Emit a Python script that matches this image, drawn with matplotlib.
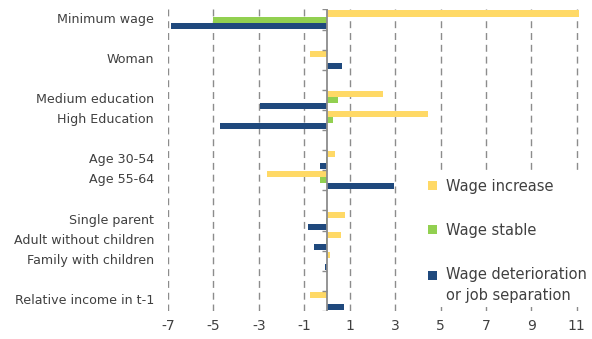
import numpy as np
import matplotlib.pyplot as plt

plt.rcParams["axes.unicode_minus"] = False

# Category rows, top to bottom; empty strings are spacer rows between groups
categories = ["Minimum wage", "", "Woman", "", "Medium education", "High Education", "",
              "Age 30-54", "Age 55-64", "", "Single parent", "Adult without children",
              "Family with children", "", "Relative income in t-1"]

wage_increase = [11.1, 0, -0.76, 0, 2.47, 4.47, 0, 0.34, -2.63, 0, 0.81, 0.62, 0.14, 0, -0.76]
wage_stable = [-5.0, 0, -0.02, 0, 0.49, 0.27, 0, -0.05, -0.29, 0, -0.05, -0.05, 0.02, 0, 0.01]
wage_deterioration = [-6.85, 0, 0.68, 0, -2.96, -4.69, 0, -0.29, 2.97, 0, -0.85, -0.55, -0.07, 0, 0.76]

series_names = ["Wage increase", "Wage stable", "Wage deterioration\nor job separation"]
colors = ["#FFD966", "#92D050", "#1F497D"]
xticks = [-7, -5, -3, -1, 1, 3, 5, 7, 9, 11]

text_col = "#404040"
grid_col = "#8C8C8C"

fig = plt.figure(figsize=(5.92, 3.39), dpi=100)
ax = fig.add_axes([0.2838, 0.0826, 0.6962, 0.8894])

y = np.arange(len(categories))
h = 0.3
for vals, off, col, name in zip([wage_increase, wage_stable, wage_deterioration],
                                [-h, 0, h], colors, series_names):
    ax.barh(y + off, vals, height=h, color=col, label=name, zorder=3)

ax.set_ylim(len(categories) - 0.5, -0.5)
ax.set_xlim(-7, 11.15)

# dashed vertical gridlines
ax.set_xticks(xticks)
ax.xaxis.grid(True, linestyle=(0, (5, 3.5)), color=grid_col, linewidth=1.0, zorder=0)
ax.yaxis.grid(False)

# zero line with small ticks between rows
ax.axvline(0, color="#8C8C8C", linewidth=1.3, zorder=4)
bounds = np.arange(len(categories) + 1) - 0.5
ax.hlines(bounds, -0.2, 0, color="#8C8C8C", linewidth=1.0, zorder=4)

shown = [i for i, c in enumerate(categories) if c]
ax.set_yticks([i - 0.1 for i in shown])
ax.set_yticklabels([categories[i] for i in shown])
ax.tick_params(axis="y", length=0, pad=10, labelsize=9.1, labelcolor=text_col)
ax.tick_params(axis="x", length=0, pad=6, labelsize=10, labelcolor=text_col)

for s in ax.spines.values():
    s.set_visible(False)

leg = ax.legend(loc="upper left", bbox_to_anchor=(0.715, 0.486),
                bbox_transform=fig.transFigure, frameon=True, fontsize=10.5,
                handlelength=0.62, handleheight=0.62, handletextpad=0.62,
                labelspacing=2.0, borderpad=0.3, borderaxespad=0)
leg.get_frame().set_edgecolor("none")
leg.get_frame().set_facecolor("white")
leg.get_frame().set_alpha(1)
leg.set_zorder(5)
for t in leg.get_texts():
    t.set_color(text_col)
    t.set_linespacing(1.5)
# put the last marker level with the first line of its two-line label
last = leg.legend_handles[2]
last.set_y(last.get_y() + 7.5)

fig.savefig("out.png", dpi=100)
